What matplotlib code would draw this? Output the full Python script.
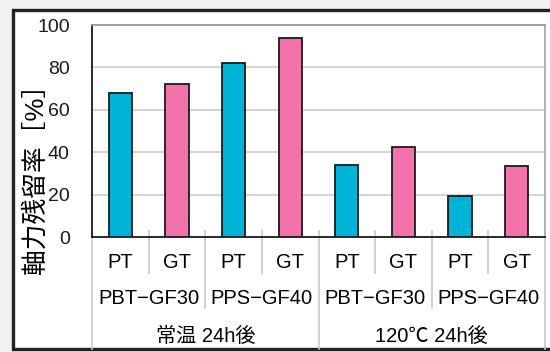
import matplotlib
matplotlib.use("Agg")
import matplotlib.pyplot as plt
from matplotlib.patches import Rectangle
from matplotlib.transforms import blended_transform_factory

plt.rcParams['font.family'] = ['Liberation Sans', 'Noto Sans CJK JP', 'DejaVu Sans']

# data
tools = ["PT", "GT", "PT", "GT", "PT", "GT", "PT", "GT"]
materials = ["PBT\u2212GF30", "PPS\u2212GF40", "PBT\u2212GF30", "PPS\u2212GF40"]
conditions = ["常温 24h後", "120\u2103 24h後"]
retention = [68, 72, 82, 94, 34, 42.5, 19.5, 33.5]
yticks = [0, 20, 40, 60, 80, 100]

cyan = "#00b4d8"
pink = "#f272aa"
colors = [cyan if t == "PT" else pink for t in tools]

fig = plt.figure(figsize=(5.5, 3.52), dpi=100)
fig.patch.set_facecolor("#f0f1f3")

# outer frame of the panel
frame = Rectangle((13 / 550, 1 - 349 / 352), 1.2, (349 - 10) / 352,
                  transform=fig.transFigure, facecolor="white",
                  edgecolor="#222222", linewidth=2.4, zorder=-10)
fig.patches.append(frame)

ax = fig.add_axes([92 / 550, 1 - 237 / 352, (545 - 92) / 550, (237 - 25) / 352])
ax.set_zorder(5)
ax.set_facecolor("white")

x = list(range(len(retention)))
ax.bar(x, retention, width=0.41, color=colors, edgecolor="#1a1a1a",
       linewidth=1.3, zorder=3)

ax.set_xlim(-0.5, len(retention) - 0.5)
ax.set_ylim(0, 100)
ax.set_yticks(yticks)
ax.set_yticklabels([str(v) for v in yticks], fontsize=14, color="#1a1a1a")
ax.tick_params(axis="y", length=0, pad=16)
ax.set_xticks([])
ax.grid(axis="y", color="#cccccc", linewidth=1.2, zorder=0)

ax.spines["left"].set_color("#1a1a1a")
ax.spines["bottom"].set_color("#1a1a1a")
ax.spines["top"].set_color("#999999")
ax.spines["right"].set_color("#aaaaaa")
for s in ax.spines.values():
    s.set_linewidth(1.3)

# category table under the axis
tr = blended_transform_factory(ax.transData, ax.transAxes)
sep = "#c8c8c8"
row1, row2, row3 = -0.170, -0.335, -0.53

for i, t in enumerate(tools):
    ax.text(i, -0.118, t, transform=tr, ha="center", va="center", fontsize=14.5)
for j, m in enumerate(materials):
    ax.text(2 * j + 0.5, -0.288, m, transform=tr, ha="center", va="center", fontsize=14.5)
for k, c in enumerate(conditions):
    ax.text(4 * k + 1.5, -0.467, c, transform=tr, ha="center", va="center", fontsize=14.5)

for b in range(len(tools) + 1):
    xb = b - 0.5
    if b == 0 or b == len(tools) or b == 4:
        y_end = row3
    elif b % 2 == 0:
        y_end = row2
    else:
        y_end = row1
    top = 0 if b in (0, len(tools)) else 0.03
    ax.plot([xb, xb], [top, y_end], transform=tr, color=sep, linewidth=1.2,
            clip_on=False, zorder=1)

fig.text(35 / 550, 1 - 172 / 352, "軸力残留率［%］", rotation=90, ha="center",
         va="center", fontsize=18.5)

fig.savefig("out.png", dpi=100, facecolor=fig.get_facecolor())
